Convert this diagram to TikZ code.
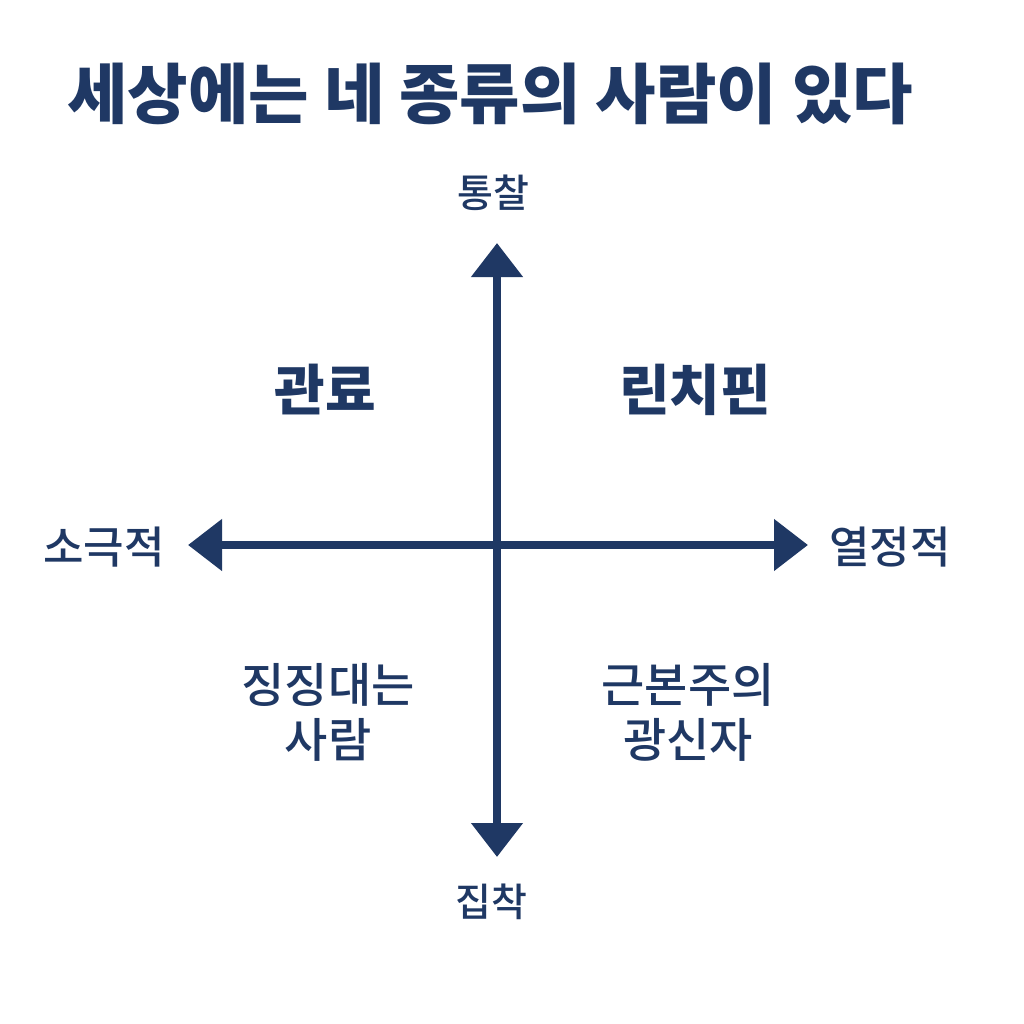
\documentclass[tikz,border=0pt]{standalone}
\usepackage{fontspec}
\usetikzlibrary{arrows.meta}
\newfontfamily\kr{Noto Sans CJK KR}
\newfontfamily\krm{Noto Sans CJK KR Medium}
\definecolor{navy}{HTML}{1F3864}
\begin{document}
\begin{tikzpicture}[x=1pt,y=-1pt,
  axis/.style={draw=navy,line width=8pt,-{Triangle[length=34pt,width=50pt]}},
  axlabel/.style={text=navy,font=\krm\fontsize{39}{44}\selectfont,inner sep=0pt},
  quad/.style={text=navy,font=\kr\bfseries\fontsize{55}{60}\selectfont,inner sep=0pt,align=center},
  quadsm/.style={text=navy,font=\krm\fontsize{47}{55}\selectfont,inner sep=0pt,align=center}]
\useasboundingbox[fill=white] (0,0) rectangle (1024,1024);
\node[text=navy,font=\kr\bfseries\fontsize{65.7}{70}\selectfont,anchor=west,inner sep=0pt] (title) at (67,94) {세상에는 네 종류의 사람이 있다};
\coordinate (c) at (497,545);
\coordinate (top) at (497,243);
\coordinate (bot) at (497,857);
\coordinate (left) at (188,545);
\coordinate (right) at (808,545);
\draw[axis] (c) -- (top);
\draw[axis] (c) -- (bot);
\draw[axis] (c) -- (left);
\draw[axis] (c) -- (right);
\node[axlabel] (insight) at (493,193) {통찰};
\node[axlabel] (obsess) at (491,902) {집착};
\node[axlabel,font=\krm\fontsize{44}{48}\selectfont] (passive) at (104,547) {소극적};
\node[axlabel,font=\krm\fontsize{44}{48}\selectfont] (passion) at (890,547) {열정적};
\node[quad] (q1) at (325,390) {관료};
\node[quad] (q2) at (695,390) {린치핀};
\node[quadsm] (q3) at (328,712) {징징대는\\사람};
\node[quadsm] (q4) at (688,712) {근본주의\\광신자};
\end{tikzpicture}
\end{document}
